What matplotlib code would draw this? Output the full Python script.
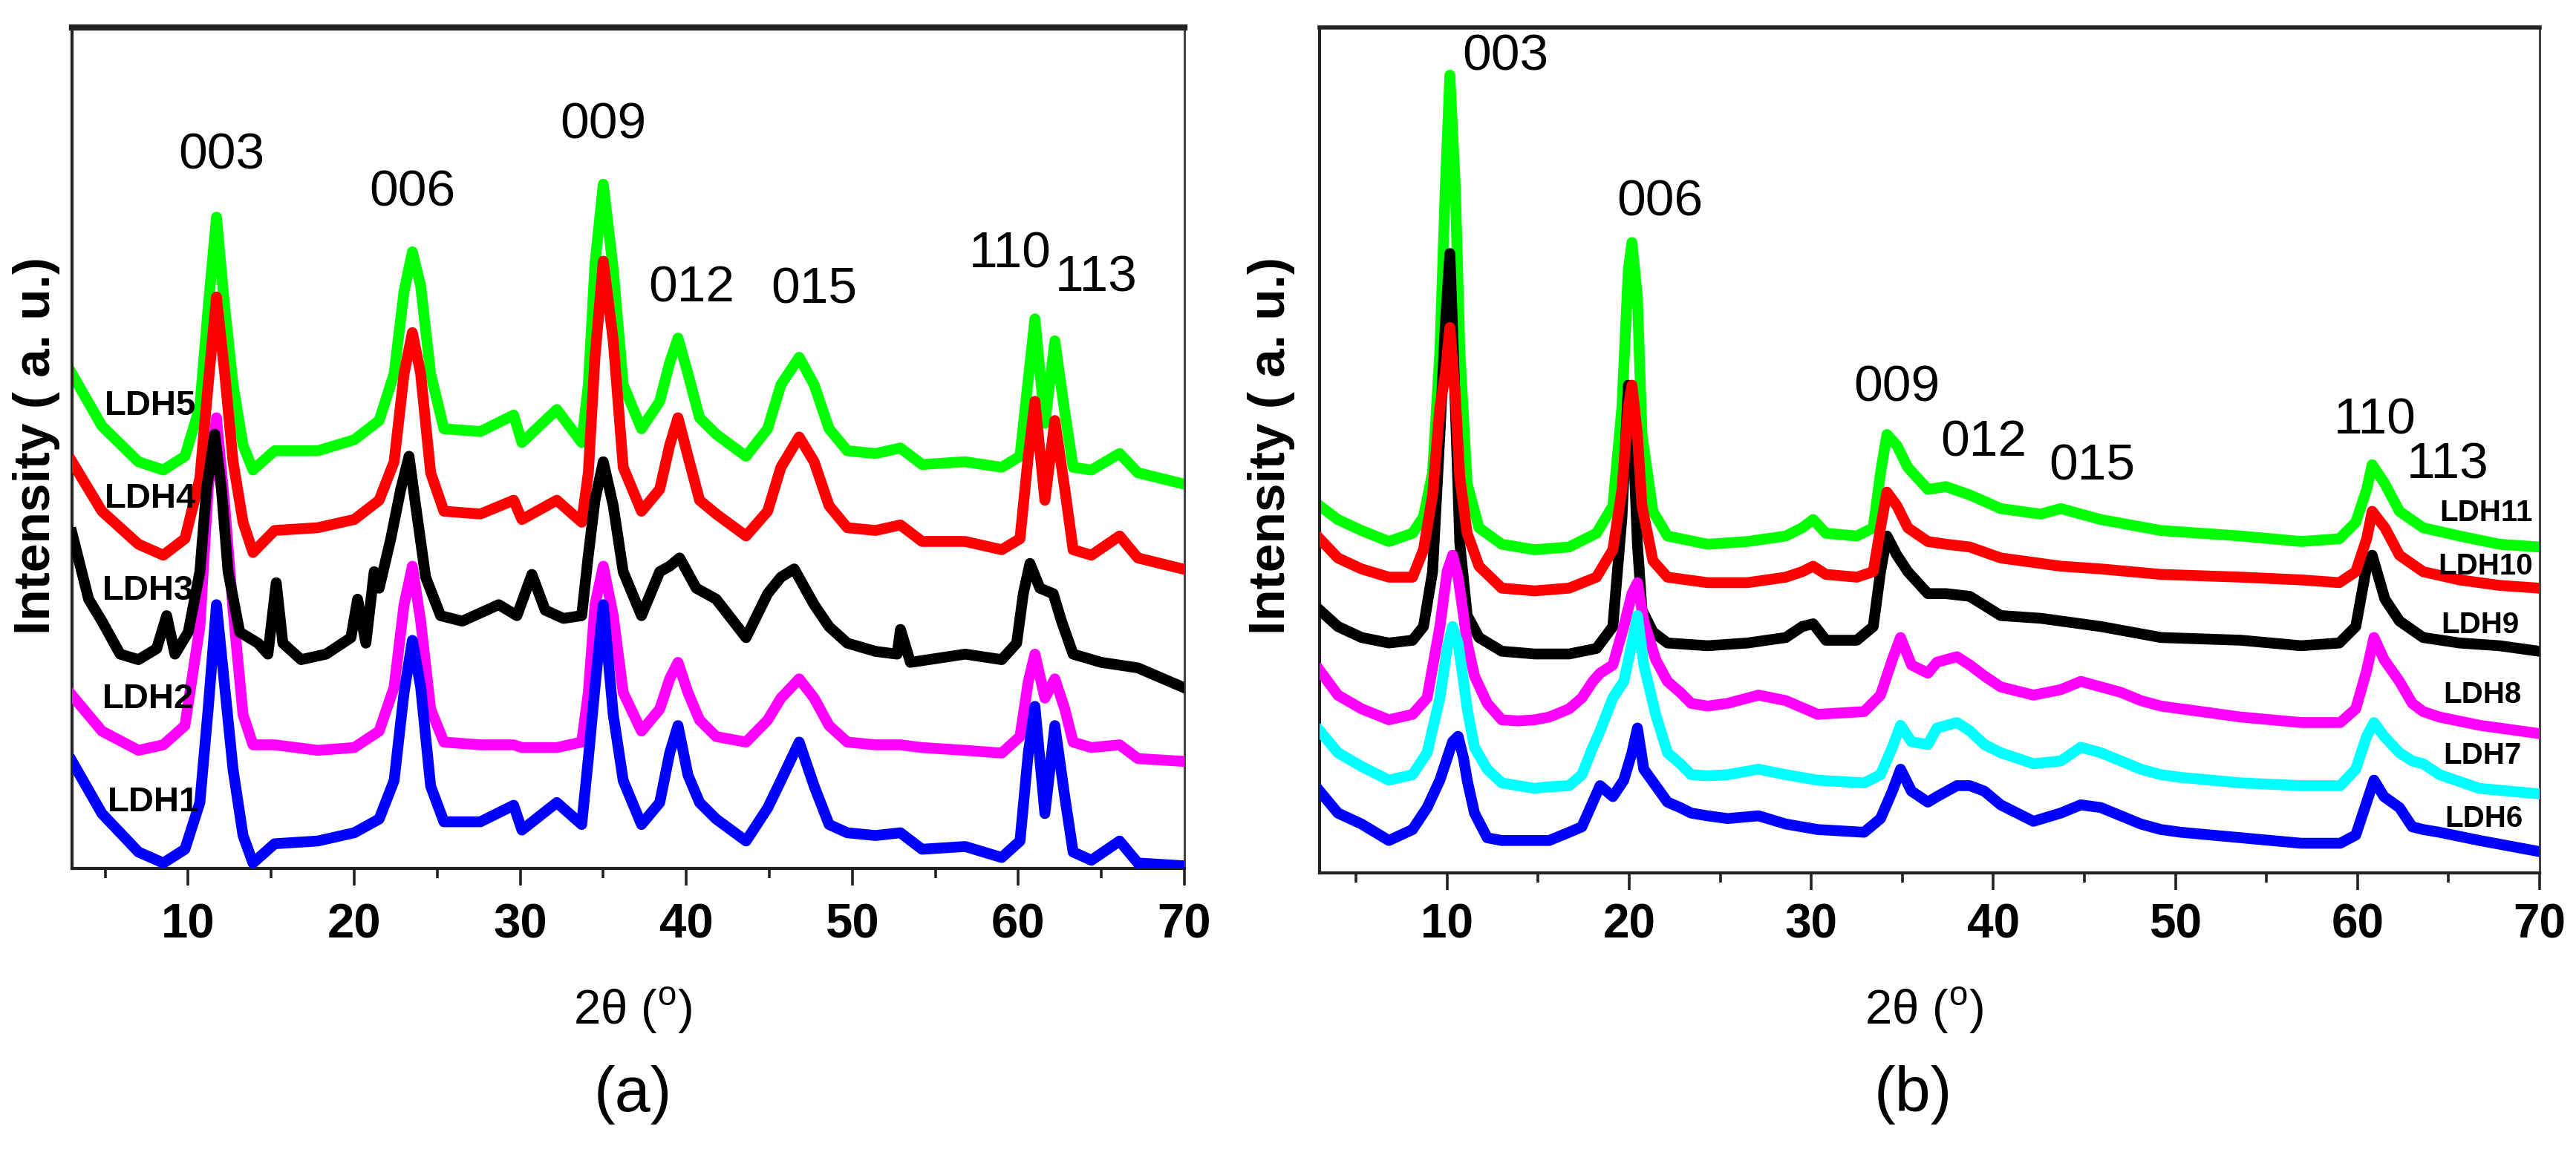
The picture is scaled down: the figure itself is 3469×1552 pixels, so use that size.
import matplotlib
matplotlib.use('Agg')
import matplotlib.pyplot as plt
from matplotlib import font_manager as fm
from matplotlib.ticker import MultipleLocator

# ---------------- data ----------------
# Panel (a): 2theta grid shared by LDH1, LDH2, LDH4, LDH5
two_theta_a = [3.0, 4.8, 7.0, 8.5, 9.8, 10.7, 11.2, 11.7, 12.2, 12.7, 13.3, 13.9, 15.2, 17.8,
               20.0, 21.5, 22.4, 23.0, 23.5, 24.0, 24.6, 25.4, 27.6, 29.6, 30.1, 32.2, 33.7,
               34.1, 34.5, 35.0, 35.6, 36.2, 37.3, 38.4, 39.0, 39.5, 40.1, 40.8, 41.8, 43.6,
               44.9, 45.7, 46.8, 47.7, 48.6, 49.7, 51.4, 52.9, 54.2, 56.8, 59.0, 60.1, 60.6,
               61.0, 61.6, 62.2, 62.8, 63.3, 64.4, 66.1, 67.2, 69.9]
ldh5 = [90.0, 80.5, 74.0, 72.5, 75.0, 84.0, 102.0, 118.5, 102.0, 88.0, 77.0, 72.5, 76.0, 76.0,
        78.0, 81.5, 90.0, 105.0, 112.2, 106.0, 90.0, 80.0, 79.5, 82.5, 77.5, 83.5, 77.5, 88.0,
        110.0, 124.5, 109.0, 88.0, 80.0, 85.0, 92.0, 96.5, 90.0, 82.0, 79.0, 75.0, 80.0, 88.0,
        93.0, 88.0, 80.0, 76.0, 75.5, 76.5, 73.5, 74.0, 73.0, 75.0, 89.0, 100.0, 81.0, 96.0,
        83.0, 73.0, 72.5, 75.5, 72.0, 70.0]
ldh4 = [74.0, 65.0, 59.0, 57.0, 60.0, 71.0, 88.0, 104.0, 90.0, 74.0, 63.0, 57.5, 61.5, 62.0,
        63.5, 67.0, 74.0, 90.0, 97.5, 90.0, 72.0, 65.0, 64.5, 67.0, 63.5, 67.0, 63.0, 72.0,
        93.0, 110.5, 96.0, 73.0, 65.0, 69.0, 77.0, 82.0, 75.0, 67.0, 64.5, 60.5, 65.0, 73.0,
        78.5, 74.0, 66.0, 62.0, 61.5, 62.5, 59.5, 59.5, 58.0, 60.0, 75.0, 85.0, 67.0, 81.5,
        69.0, 58.0, 57.0, 60.5, 56.5, 54.5]
ldh2 = [31.5, 25.0, 21.5, 22.5, 26.0, 44.0, 69.0, 82.0, 66.0, 47.0, 28.0, 22.5, 22.5, 21.5,
        22.0, 25.0, 33.0, 48.0, 55.0, 45.0, 29.0, 23.0, 22.5, 22.5, 22.0, 22.0, 23.0, 32.0,
        48.0, 55.0, 46.0, 32.0, 25.0, 29.0, 34.5, 37.5, 32.0, 27.0, 24.0, 23.0, 27.0, 31.0,
        34.5, 31.0, 26.0, 23.0, 22.5, 22.5, 22.0, 21.5, 21.0, 24.0, 34.0, 39.0, 31.0, 34.5,
        29.0, 23.0, 22.0, 22.5, 20.0, 19.5]
ldh1 = [19.5, 10.0, 3.0, 1.0, 3.5, 12.0, 29.0, 48.0, 33.0, 18.0, 6.0, 1.0, 4.5, 5.0,
        6.5, 9.0, 16.0, 32.0, 41.5, 33.0, 15.0, 8.5, 8.5, 11.5, 7.0, 12.0, 8.0, 20.0,
        33.0, 48.0, 28.0, 16.0, 8.0, 12.0, 21.0, 26.0, 17.0, 12.0, 9.0, 5.0, 11.0, 16.0,
        23.0, 15.0, 8.0, 6.5, 6.0, 6.5, 3.5, 4.0, 2.0, 5.0, 21.0, 29.5, 10.0, 26.0,
        13.0, 3.0, 1.5, 5.0, 1.0, 0.5]
# LDH3 has its own grid (extra impurity peaks)
two_theta_ldh3 = [3.0, 4.0, 4.8, 5.9, 7.0, 8.1, 8.7, 9.2, 10.0, 10.7, 11.1, 11.6, 12.0, 12.4,
                  13.1, 14.2, 14.8, 15.3, 15.7, 16.8, 18.3, 19.8, 20.2, 20.7, 21.2, 21.5, 22.2,
                  22.8, 23.3, 23.7, 24.3, 25.2, 26.5, 28.7, 29.8, 30.7, 31.5, 32.6, 33.7, 34.1,
                  34.5, 35.0, 35.6, 36.2, 37.3, 38.4, 39.0, 39.6, 40.6, 41.8, 43.6, 44.9, 45.7,
                  46.5, 47.7, 48.6, 49.7, 51.4, 52.7, 52.9, 53.5, 56.8, 59.0, 59.9, 60.3, 60.7,
                  61.3, 62.1, 62.6, 63.3, 65.0, 67.2, 69.9]
ldh3 = [61.0, 49.0, 45.0, 39.0, 38.0, 40.0, 46.0, 39.0, 43.0, 54.0, 69.0, 79.0, 69.0, 54.0,
        43.0, 41.0, 39.0, 52.0, 41.0, 38.0, 39.0, 42.0, 49.0, 41.0, 54.0, 51.0, 60.0,
        69.0, 75.0, 66.0, 53.0, 46.0, 45.0, 48.0, 46.0, 53.5, 47.0, 45.5, 46.0, 57.0,
        67.0, 74.0, 66.0, 54.0, 46.0, 54.0, 55.0, 56.5, 51.0, 49.0, 42.0, 50.0, 53.0,
        54.5, 48.0, 44.0, 41.0, 39.5, 39.0, 43.5, 37.5, 39.0, 38.0, 41.0, 50.0, 55.5,
        51.0, 50.0, 45.0, 39.0, 37.5, 36.5, 33.0]

# Panel (b): grid for LDH9, LDH10, LDH11
two_theta_b1 = [3.0, 4.0, 5.3, 6.8, 8.1, 8.7, 9.2, 9.6, 9.9, 10.15, 10.45, 10.7, 11.1, 11.75,
                13.0, 14.8, 16.7, 18.2, 19.1, 19.6, 19.95, 20.15, 20.45, 20.7, 21.3, 22.1, 24.3,
                26.5, 28.6, 29.5, 30.1, 30.8, 32.5, 33.4, 33.8, 34.15, 34.7, 35.3, 36.4, 37.4,
                38.7, 40.4, 42.6, 43.7, 45.9, 49.2, 53.6, 56.9, 59.0, 59.9, 60.5, 60.8, 61.5,
                62.3, 63.6, 65.6, 67.8, 69.95]
ldh11 = [66.0, 63.5, 61.5, 59.5, 61.0, 64.0, 72.0, 94.0, 124.0, 144.5, 124.0, 94.0, 70.0, 62.0,
         59.0, 58.0, 58.5, 61.0, 66.0, 84.0, 109.0, 114.0, 104.0, 79.0, 65.0, 60.5, 59.0,
         59.5, 60.5, 62.0, 63.5, 61.0, 60.5, 62.0, 72.0, 79.0, 77.0, 73.0, 69.0, 69.5,
         68.0, 65.5, 64.5, 65.5, 63.5, 61.5, 60.5, 59.5, 60.0, 63.0, 69.0, 73.5, 70.0,
         65.0, 62.0, 60.5, 59.0, 58.5]
ldh10 = [60.0, 56.5, 54.5, 53.0, 53.0, 58.0, 68.0, 84.0, 90.0, 98.5, 86.0, 71.0, 61.0, 55.0,
         51.0, 50.5, 51.0, 53.0, 58.0, 69.0, 84.0, 88.0, 79.0, 66.0, 56.0, 53.0, 52.0,
         52.0, 53.0, 54.0, 55.0, 53.5, 53.0, 54.0, 62.0, 68.5, 66.0, 62.0, 59.5, 59.0,
         58.5, 56.5, 55.5, 55.0, 54.5, 53.5, 53.0, 52.5, 52.0, 54.0, 60.0, 65.0, 62.0,
         57.0, 54.0, 52.5, 51.5, 51.0]
ldh9 = [47.0, 44.0, 42.0, 41.0, 41.5, 44.0, 54.0, 79.0, 99.0, 112.0, 84.0, 59.0, 46.0, 42.0,
        39.5, 39.0, 39.0, 40.0, 44.0, 64.0, 88.0, 84.0, 59.0, 47.0, 43.0, 41.0, 40.5,
        41.0, 42.0, 44.0, 44.5, 41.5, 41.5, 44.0, 54.0, 60.5, 57.0, 54.0, 50.0, 50.0,
        49.5, 46.0, 45.5, 45.0, 44.0, 42.0, 41.5, 40.5, 41.0, 44.0, 55.0, 57.0, 49.0,
        45.0, 42.0, 41.0, 40.5, 39.5]
# Panel (b): grid for LDH6, LDH7, LDH8
two_theta_b2 = [3.0, 4.0, 5.3, 6.8, 8.1, 8.9, 9.6, 10.0, 10.3, 10.6, 10.9, 11.1, 11.5, 12.2,
                13.0, 13.9, 14.8, 15.6, 16.7, 17.4, 18.0, 18.4, 19.1, 19.7, 20.15, 20.45, 20.8,
                21.45, 22.1, 22.8, 23.4, 24.3, 25.4, 27.1, 28.6, 30.35, 32.9, 33.8, 34.45, 34.9,
                35.5, 36.4, 36.9, 38.0, 38.7, 39.5, 40.4, 42.2, 43.7, 44.8, 45.9, 47.0, 48.1,
                49.2, 50.3, 53.6, 56.9, 59.05, 59.9, 60.5, 60.9, 61.45, 62.3, 63.0, 63.6, 64.5,
                66.7, 69.95]
ldh8 = [36.0, 31.5, 29.0, 27.0, 28.0, 31.0, 44.0, 54.0, 57.0, 53.0, 46.0, 41.0, 35.0, 30.0,
        27.0, 26.8, 27.0, 27.5, 29.0, 31.0, 34.0, 35.5, 37.0, 44.0, 50.0, 52.0, 45.0,
        38.0, 34.0, 32.0, 30.0, 29.5, 30.0, 31.5, 30.5, 28.0, 28.5, 31.5, 38.0, 42.0,
        37.0, 35.5, 37.5, 38.5, 37.0, 35.0, 33.0, 31.5, 32.5, 34.0, 33.0, 32.0, 30.5,
        29.5, 29.0, 27.5, 26.5, 26.5, 29.0, 36.0, 42.0, 38.0, 34.0, 30.0, 28.5, 27.5,
        26.0, 24.5]
ldh7 = [25.0, 21.0, 18.5, 16.0, 17.0, 21.0, 31.0, 40.0, 44.0, 41.0, 34.0, 29.0, 22.0, 18.0,
        15.5, 15.0, 14.5, 14.8, 15.0, 17.0, 22.0, 25.0, 31.0, 34.0, 41.0, 46.0, 37.0,
        28.0, 21.0, 19.0, 17.0, 16.8, 17.0, 18.0, 17.0, 16.0, 15.5, 17.0, 22.0, 26.0,
        23.0, 22.5, 25.5, 26.5, 25.0, 22.5, 21.0, 19.0, 19.5, 22.0, 21.0, 19.5, 18.0,
        17.0, 16.5, 15.5, 15.0, 15.0, 18.0, 24.0, 26.5, 24.0, 21.0, 19.5, 19.0, 17.0,
        14.5, 13.5]
ldh6 = [14.0, 10.0, 8.0, 5.0, 7.0, 11.0, 16.0, 20.0, 23.0, 24.0, 20.0, 16.0, 10.0, 5.5,
        5.0, 5.0, 5.0, 5.0, 6.5, 7.5, 12.0, 15.0, 13.0, 16.0, 21.0, 25.5, 18.0,
        15.0, 12.0, 11.0, 10.0, 9.5, 9.0, 9.5, 8.0, 7.0, 6.5, 9.0, 14.0, 18.0,
        14.0, 12.0, 13.0, 15.0, 15.0, 14.0, 11.5, 8.5, 10.0, 11.5, 11.0, 9.5, 8.0,
        7.0, 6.5, 5.5, 4.5, 4.5, 6.0, 12.0, 16.0, 13.0, 11.0, 7.5, 7.0, 6.5,
        5.0, 3.0]

# reflection labels
hkl_labels = ['003', '006', '009', '012', '015', '110', '113']
hkl_pos_a = [(12.0, 129.7), (23.5, 123.0), (35.0, 135.3), (40.3, 105.5),
             (47.7, 105.3), (59.5, 111.8), (64.7, 107.5)]
hkl_pos_b = [(13.2, 147.8), (21.7, 121.3), (34.7, 87.5), (39.45, 77.5),
             (45.4, 73.2), (60.95, 81.5), (64.95, 73.5)]

# sample names
names_a = ['LDH5', 'LDH4', 'LDH3', 'LDH2', 'LDH1']
name_pos_a = [(7.7, 84.2), (7.7, 67.2), (7.6, 50.5), (7.6, 30.8), (7.9, 12.0)]
names_b = ['LDH11', 'LDH10', 'LDH9', 'LDH8', 'LDH7', 'LDH6']
name_pos_b = [(64.5, 64.7), (64.4, 55.0), (64.6, 44.3), (64.7, 31.5), (64.7, 20.5), (64.8, 9.0)]

tick_values = [10, 20, 30, 40, 50, 60, 70]

# ---------------- fonts ----------------
def has_font(name):
    try:
        fm.findfont(fm.FontProperties(family=name), fallback_to_default=False)
        return True
    except Exception:
        return False

SANS = 'Liberation Sans' if has_font('Liberation Sans') else 'DejaVu Sans'
NARROW = 'Liberation Sans Narrow' if has_font('Liberation Sans Narrow') else SANS
plt.rcParams['font.family'] = [SANS, 'DejaVu Sans']
plt.rcParams['mathtext.fontset'] = 'custom'
plt.rcParams['mathtext.rm'] = SANS

GREEN, RED, BLACK, MAGENTA, BLUE, CYAN = '#00FF00', '#FF0000', '#000000', '#FF00FF', '#0000FF', '#00FFFF'
LW = 10.5
SPINE = '#222222'

fig = plt.figure(figsize=(34.69, 15.52), dpi=100)
fig.patch.set_facecolor('white')
axa = fig.add_axes([0.02796, 0.2461, 0.4318, 0.7300])
axb = fig.add_axes([0.5123, 0.2423, 0.4736, 0.7339])

# panel (a) curves
axa.plot(two_theta_a, ldh5, color=GREEN, lw=LW, zorder=2)
axa.plot(two_theta_a, ldh4, color=RED, lw=LW, zorder=3)
axa.plot(two_theta_a, ldh2, color=MAGENTA, lw=LW, zorder=4)
axa.plot(two_theta_a, ldh1, color=BLUE, lw=LW, zorder=5)
axa.plot(two_theta_ldh3, ldh3, color=BLACK, lw=LW, zorder=6)

# panel (b) curves
axb.plot(two_theta_b1, ldh11, color=GREEN, lw=LW, zorder=2)
axb.plot(two_theta_b1, ldh9, color=BLACK, lw=LW, zorder=3)
axb.plot(two_theta_b1, ldh10, color=RED, lw=LW, zorder=4)
axb.plot(two_theta_b2, ldh8, color=MAGENTA, lw=LW, zorder=5)
axb.plot(two_theta_b2, ldh7, color=CYAN, lw=LW, zorder=6)
axb.plot(two_theta_b2, ldh6, color=BLUE, lw=LW, zorder=7)

axa.set_xlim(3.0, 70.0)
axa.set_ylim(0, 153)
axb.set_xlim(3.0, 70.0)
axb.set_ylim(-0.9, 153.2)

for ax, tick_font, tick_size, pad in ((axa, NARROW, 54 if NARROW != SANS else 47, 17),
                                      (axb, SANS, 46, 13)):
    ax.set_facecolor('white')
    ax.set_xticks(tick_values)
    ax.xaxis.set_minor_locator(MultipleLocator(5))
    ax.tick_params(axis='x', which='major', direction='out', length=16.5, width=2.6,
                   color=SPINE, pad=pad)
    ax.tick_params(axis='x', which='minor', direction='out', length=9, width=2.6, color=SPINE)
    ax.tick_params(axis='y', which='both', left=False, labelleft=False)
    ax.set_xticklabels([str(v) for v in tick_values], fontfamily=tick_font,
                       fontweight='bold', fontsize=tick_size)
    for side in ('left', 'bottom'):
        ax.spines[side].set_color(SPINE)
        ax.spines[side].set_linewidth(3.0)
    ax.spines['right'].set_color('#444444')
    ax.spines['right'].set_linewidth(2.2)
    ax.spines['top'].set_color(SPINE)

axa.spines['top'].set_linewidth(6.0)
axb.spines['top'].set_linewidth(4.0)

# reflection labels
for lab, (x, y) in zip(hkl_labels, hkl_pos_a):
    axa.text(x, y, lab, ha='center', va='center', fontsize=50, zorder=10)
for lab, (x, y) in zip(hkl_labels, hkl_pos_b):
    axb.text(x, y, lab, ha='center', va='center', fontsize=50, zorder=10)

# sample names
for lab, (x, y) in zip(names_a, name_pos_a):
    axa.text(x, y, lab, ha='center', va='center', fontsize=34, fontweight='bold', zorder=10)
for lab, (x, y) in zip(names_b, name_pos_b):
    axb.text(x, y, lab, ha='left', va='center', fontsize=29, fontweight='bold', zorder=10)

# axis titles
ylab = 'Intensity ( a. u.)'
fig.text(0.0141, 0.6134, ylab, rotation=90, ha='center', va='center',
         fontsize=50, fontweight='bold')
fig.text(0.4935, 0.6134, ylab, rotation=90, ha='center', va='center',
         fontsize=50, fontweight='bold')
xlab = '2\u03b8 ($^{\\mathregular{o}}$)'
fig.text(0.2456, 0.123, xlab, ha='center', va='center', fontsize=47)
fig.text(0.7470, 0.123, xlab, ha='center', va='center', fontsize=47)
fig.text(0.2456, 0.0496, '(a)', ha='center', va='center', fontsize=62)
fig.text(0.7426, 0.0496, '(b)', ha='center', va='center', fontsize=62)

fig.savefig('out.png', dpi=100, facecolor='white')
